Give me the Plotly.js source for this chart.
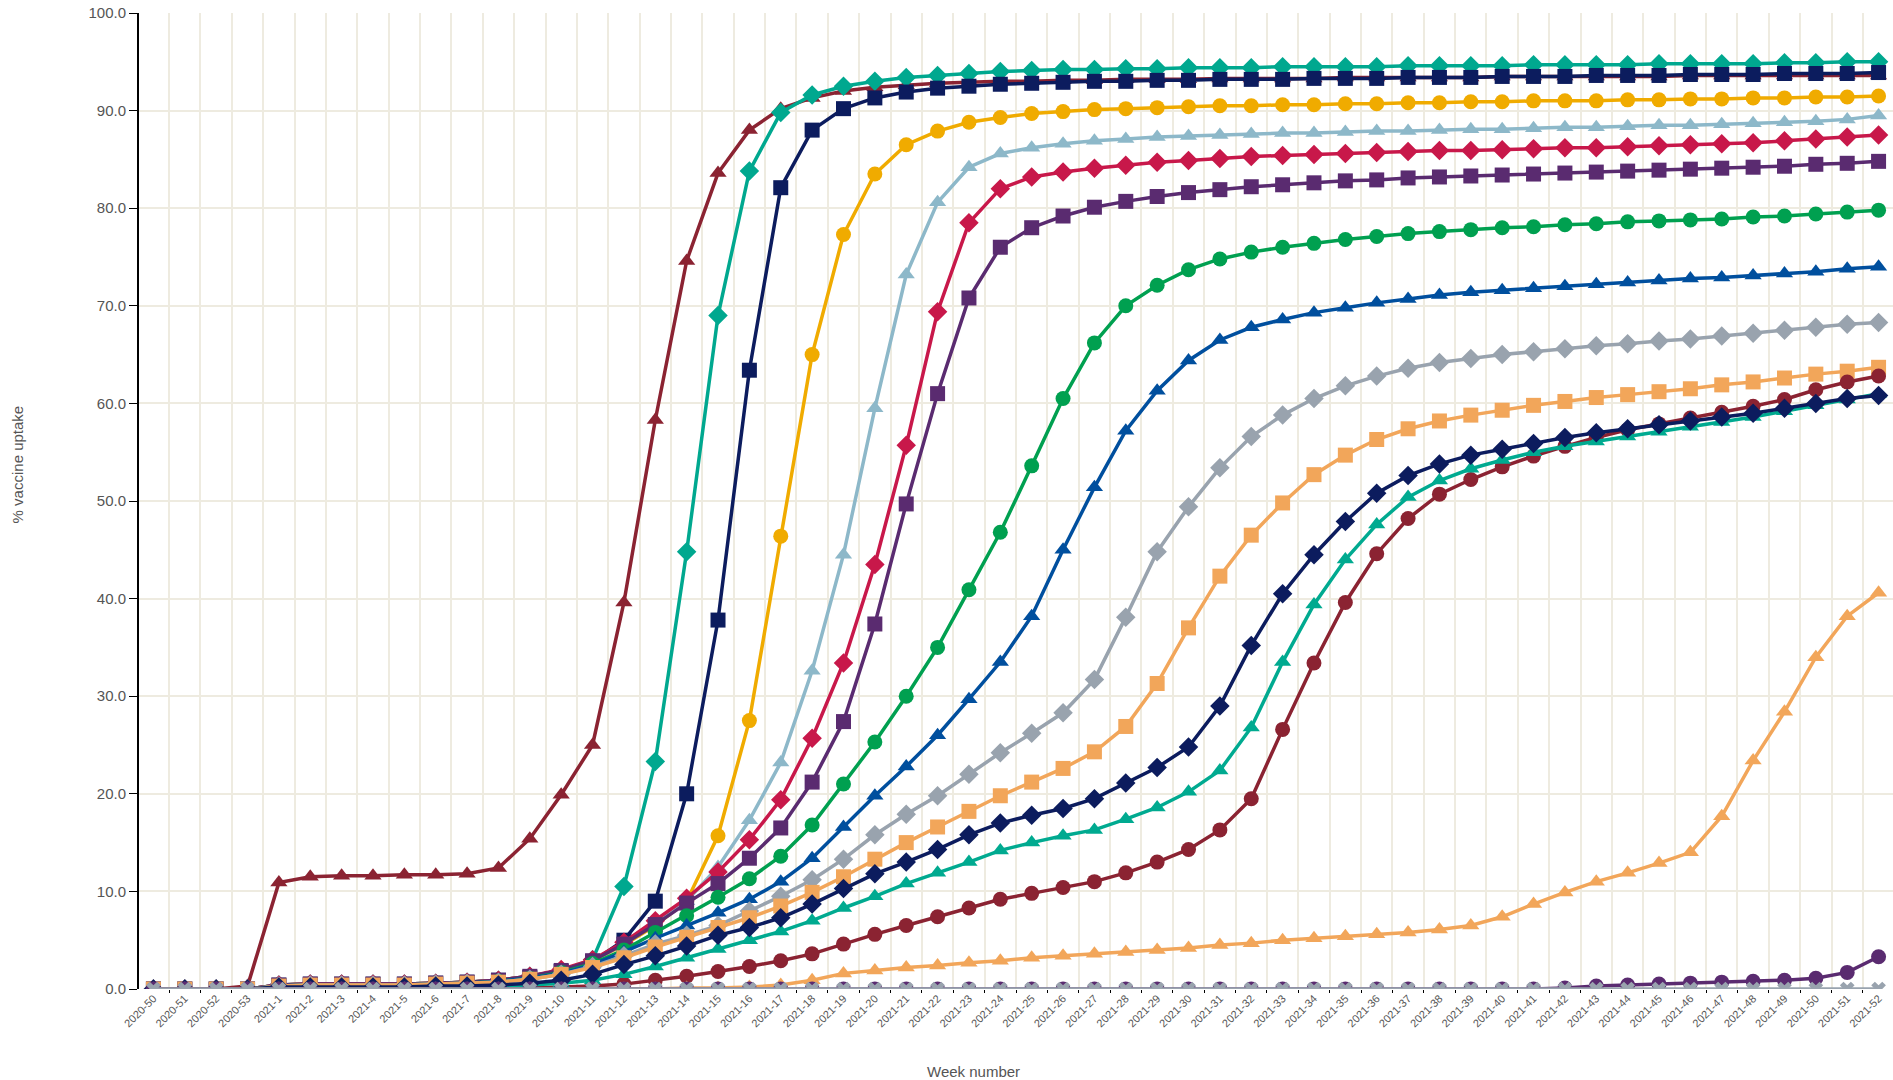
<!DOCTYPE html>
<html>
<head>
<meta charset="utf-8">
<script src="https://cdn.plot.ly/plotly-3.0.1.min.js"></script>
<style>html,body{margin:0;padding:0;background:#fff}#chart{width:1893px;height:1080px}</style>
</head>
<body>
<div id="chart"></div>
<script>
// week labels
let weeks = ['2020-50', '2020-51', '2020-52', '2020-53'];
for (let w = 1; w <= 52; w++) weeks.push('2021-' + w);

// series values, one per week (2020-50 .. 2021-52)
let s1 = [0,0,0,0.3, 10.9,11.5,11.6,11.6,11.7,11.7,11.8,12.4,15.4,19.9,25,39.6,58.3,74.6,83.6,88,90.2,91.3,92,92.4,92.6,92.8,92.9,93,93,93.1,93.1,93.2,93.2,93.2,93.3,93.3,93.3,93.3,93.4,93.4,93.4,93.4,93.4,93.5,93.5,93.5,93.5,93.5,93.5,93.6,93.6,93.6,93.6,93.6,93.6,93.6];
let s2 = [0,0,0,0, 0.4,0.5,0.5,0.5,0.5,0.6,0.7,0.9,1.3,1.9,3,10.5,23.3,44.8,69,83.8,89.8,91.6,92.5,93,93.4,93.6,93.8,94,94.1,94.2,94.2,94.3,94.3,94.4,94.4,94.4,94.5,94.5,94.5,94.5,94.6,94.6,94.6,94.6,94.7,94.7,94.7,94.7,94.8,94.8,94.8,94.8,94.9,94.9,95,95];
let s3 = [0,0,0,0, 0.4,0.5,0.5,0.5,0.5,0.6,0.7,0.9,1.2,1.8,2.8,5,9,20,37.8,63.4,82.1,88,90.2,91.3,91.9,92.3,92.5,92.7,92.8,92.9,93,93,93.1,93.1,93.2,93.2,93.2,93.3,93.3,93.3,93.4,93.4,93.4,93.5,93.5,93.5,93.6,93.6,93.6,93.7,93.7,93.7,93.8,93.8,93.8,93.9];
let s4 = [0,0,0,0, 0.4,0.5,0.5,0.5,0.5,0.6,0.7,0.9,1.3,1.9,2.9,4.5,6.5,9,15.7,27.5,46.4,65,77.3,83.5,86.5,87.9,88.8,89.3,89.7,89.9,90.1,90.2,90.3,90.4,90.5,90.5,90.6,90.6,90.7,90.7,90.8,90.8,90.9,90.9,91,91,91,91.1,91.1,91.2,91.2,91.3,91.3,91.4,91.4,91.5];
let s5 = [0,0,0,0, 0.4,0.5,0.5,0.5,0.5,0.6,0.7,0.9,1.3,1.9,2.9,4.6,6.7,9,12.5,17.3,23.2,32.6,44.5,59.5,73.2,80.6,84.2,85.6,86.2,86.6,86.9,87.1,87.3,87.4,87.5,87.6,87.7,87.7,87.8,87.9,87.9,88,88.1,88.1,88.2,88.3,88.3,88.4,88.5,88.5,88.6,88.7,88.8,88.9,89.1,89.5];
let s6 = [0,0,0,0, 0.4,0.5,0.5,0.5,0.5,0.6,0.7,0.9,1.3,2,3,4.8,7,9.3,12,15.3,19.4,25.7,33.4,43.5,55.7,69.4,78.5,82,83.2,83.7,84.1,84.4,84.7,84.9,85.1,85.3,85.4,85.5,85.6,85.7,85.8,85.9,85.9,86,86.1,86.2,86.2,86.3,86.4,86.5,86.6,86.7,86.9,87.1,87.3,87.5];
let s7 = [0,0,0,0, 0.4,0.5,0.5,0.5,0.5,0.6,0.7,0.9,1.3,1.9,2.9,4.6,6.6,8.8,10.8,13.4,16.5,21.2,27.4,37.4,49.7,61,70.8,76,78,79.2,80.1,80.7,81.2,81.6,81.9,82.2,82.4,82.6,82.8,82.9,83.1,83.2,83.3,83.4,83.5,83.6,83.7,83.8,83.9,84,84.1,84.2,84.3,84.5,84.6,84.8];
let s8 = [0,0,0,0, 0.3,0.4,0.4,0.4,0.4,0.5,0.6,0.8,1.1,1.7,2.6,4,5.8,7.5,9.4,11.3,13.6,16.8,21,25.3,30,35,40.9,46.8,53.6,60.5,66.2,70,72.1,73.7,74.8,75.5,76,76.4,76.8,77.1,77.4,77.6,77.8,78,78.1,78.3,78.4,78.6,78.7,78.8,78.9,79.1,79.2,79.4,79.6,79.8];
let s9 = [0,0,0,0, 0.3,0.4,0.4,0.4,0.4,0.5,0.6,0.8,1.1,1.6,2.5,3.8,5.2,6.5,7.8,9.2,11,13.4,16.6,19.8,22.8,26,29.7,33.5,38.2,45,51.4,57.2,61.3,64.4,66.5,67.8,68.6,69.3,69.8,70.3,70.7,71.1,71.4,71.6,71.8,72,72.2,72.4,72.6,72.8,72.9,73.1,73.3,73.5,73.8,74];
let s10 = [0,0,0,0, 0.3,0.4,0.4,0.4,0.4,0.5,0.6,0.7,1,1.5,2.3,3.4,4.6,5.5,6.5,8,9.5,11.2,13.3,15.8,17.9,19.8,22,24.2,26.2,28.3,31.7,38.1,44.8,49.4,53.4,56.6,58.8,60.5,61.8,62.8,63.6,64.2,64.6,65,65.3,65.6,65.9,66.1,66.4,66.6,66.9,67.2,67.5,67.8,68.1,68.3];
let s11 = [0,0,0,0, 0.3,0.4,0.4,0.4,0.4,0.5,0.6,0.7,1,1.5,2.2,3.2,4.3,5.3,6.3,7.3,8.5,9.9,11.5,13.3,15,16.6,18.2,19.8,21.2,22.6,24.3,26.9,31.3,37,42.3,46.5,49.8,52.7,54.7,56.3,57.4,58.2,58.8,59.3,59.8,60.2,60.6,60.9,61.2,61.5,61.9,62.2,62.6,63,63.3,63.7];
let s12 = [0,0,0,0, 0,0,0,0,0,0,0,0,0.1,0.2,0.3,0.5,0.9,1.3,1.8,2.3,2.9,3.6,4.6,5.6,6.5,7.4,8.3,9.2,9.8,10.4,11,11.9,13,14.3,16.3,19.5,26.6,33.4,39.6,44.6,48.2,50.7,52.2,53.5,54.6,55.6,56.5,57.3,57.9,58.5,59.1,59.7,60.4,61.4,62.2,62.8];
let s13 = [0,0,0,0, 0.1,0.1,0.1,0.1,0.1,0.1,0.2,0.3,0.4,0.6,0.9,1.5,2.3,3.2,4.1,5,5.9,7,8.3,9.5,10.8,11.9,13,14.2,15,15.7,16.3,17.4,18.6,20.2,22.4,26.8,33.5,39.4,44,47.6,50.4,52.1,53.3,54.2,55,55.6,56.1,56.6,57.1,57.6,58.1,58.6,59.2,59.8,60.4,61];
let s14 = [0,0,0,0, 0.2,0.2,0.2,0.2,0.2,0.3,0.3,0.4,0.6,0.9,1.5,2.5,3.4,4.4,5.5,6.3,7.3,8.7,10.3,11.8,13,14.3,15.8,17,17.8,18.5,19.5,21.1,22.7,24.8,29,35.2,40.5,44.5,47.9,50.8,52.6,53.8,54.7,55.3,55.9,56.5,57,57.4,57.8,58.2,58.6,59,59.5,60,60.5,60.8];
let s15 = [0,0,0,0, 0,0,0,0,0,0,0,0,0,0,0,0,0,0.1,0.1,0.2,0.4,0.9,1.6,1.9,2.2,2.4,2.7,2.9,3.2,3.4,3.6,3.8,4,4.2,4.5,4.7,5,5.2,5.4,5.6,5.8,6.1,6.5,7.4,8.7,9.9,11,11.9,12.9,14,17.7,23.4,28.4,34,38.2,40.6];
let s16 = [0,0,0,0, 0,0,0,0,0,0,0,0,0,0,0,0,0,0,0,0,0,0,0,0,0,0,0,0,0,0,0,0,0,0,0,0,0,0,0,0,0,0,0,0,0,0.1,0.3,0.4,0.5,0.6,0.7,0.8,0.9,1.1,1.7,3.3];
let s17 = weeks.map(() => 0);

let seriesList = [
    [s1, '#8B2332', 'triangle-up'],
    [s2, '#00A88F', 'diamond'],
    [s3, '#0C1C5E', 'square'],
    [s4, '#F0AB00', 'circle'],
    [s5, '#8DB8C9', 'triangle-up'],
    [s6, '#C8184A', 'diamond'],
    [s7, '#5A2B70', 'square'],
    [s8, '#00A050', 'circle'],
    [s9, '#004F9E', 'triangle-up'],
    [s10, '#99A3AE', 'diamond'],
    [s11, '#F2A65A', 'square'],
    [s12, '#8B2332', 'circle'],
    [s13, '#00AA90', 'triangle-up'],
    [s14, '#0C1C5E', 'diamond'],
    [s15, '#F2A65A', 'triangle-up'],
    [s16, '#5A2B70', 'circle'],
    [s17, '#99A3AE', 'x']
];

let data = seriesList.map(s => ({
    type: 'scatter',
    mode: 'lines+markers',
    x: weeks,
    y: s[0],
    line: {color: s[1], width: 3.5},
    marker: {color: s[1], symbol: s[2], size: s[2] === 'x' ? 13 : 15},
    showlegend: false
}));

let layout = {
    width: 1893,
    height: 1080,
    margin: {l: 139, r: 0, t: 13, b: 91},
    paper_bgcolor: '#fff',
    plot_bgcolor: '#fff',
    font: {family: 'Liberation Sans, Arial, sans-serif', color: '#555'},
    xaxis: {
        type: 'category',
        range: [-0.46, 55.46],
        tickangle: -45,
        tickfont: {size: 11, color: '#555'},
        tickson: 'boundaries',
        showgrid: true,
        gridcolor: '#EEEBE0',
        gridwidth: 2,
        ticks: 'outside',
        ticklen: 3,
        tickcolor: '#000',
        showline: false,
        zeroline: false
    },
    yaxis: {
        range: [0, 100],
        dtick: 10,
        tickformat: '.1f',
        tickfont: {size: 15, color: '#555'},
        showgrid: true,
        gridcolor: '#EEEBE0',
        gridwidth: 2,
        showline: true,
        linecolor: '#000',
        linewidth: 2,
        ticks: 'outside',
        ticklen: 8,
        tickcolor: '#000',
        zeroline: false
    },
    annotations: [
        {text: 'Week number', xref: 'paper', yref: 'paper', x: 0.476, y: 0, yshift: -93,
         showarrow: false, font: {size: 15, color: '#555'}},
        {text: '% vaccine uptake', xref: 'paper', yref: 'paper', x: 0, xshift: -132, y: 0.537,
         textangle: -90, showarrow: false, font: {size: 15, color: '#555'}}
    ]
};

Plotly.newPlot('chart', data, layout, {displayModeBar: false});
</script>
</body>
</html>
